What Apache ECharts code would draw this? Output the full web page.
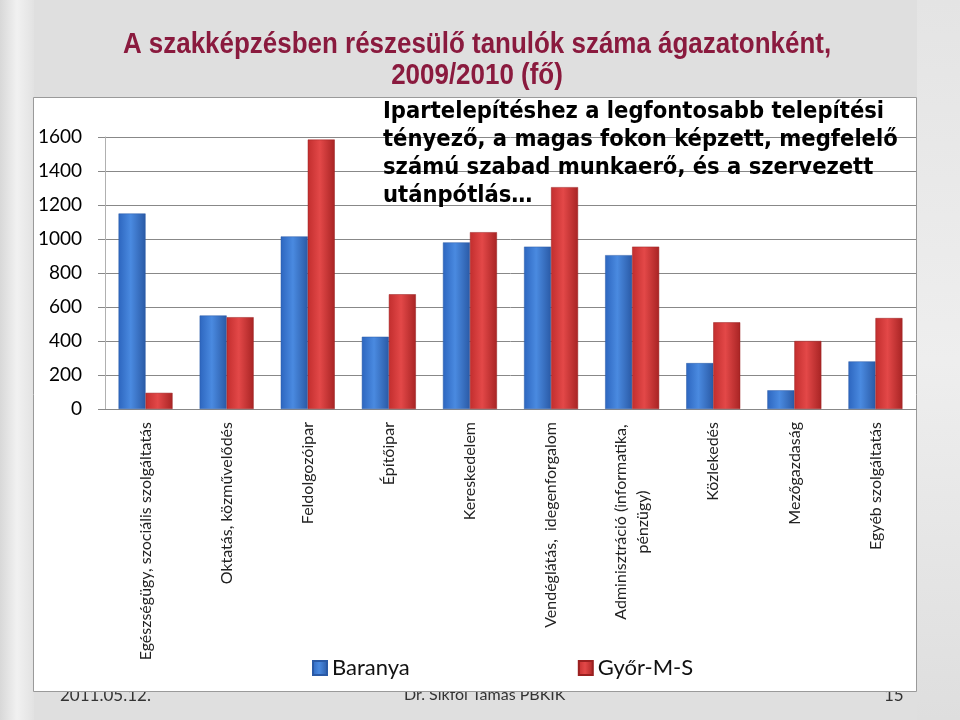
<!DOCTYPE html>
<html>
<head>
<meta charset="utf-8">
<script src="https://cdn.jsdelivr.net/npm/echarts@6/dist/echarts.min.js"></script>
<style>html,body{margin:0;padding:0;background:#dfdfdf;}#c{width:960px;height:720px;}</style>
</head>
<body>
<div id="c"></div>
<script>
const categories = [
  'Egészségügy, szociális szolgáltatás',
  'Oktatás, közművelődés',
  'Feldolgozóipar',
  'Építőipar',
  'Kereskedelem',
  'Vendéglátás,  idegenforgalom',
  'Adminisztráció (informatika,\npénzügy)',
  'Közlekedés',
  'Mezőgazdaság',
  'Egyéb szolgáltatás'
];
const baranya = [1150, 550, 1015, 425, 980, 955, 905, 270, 110, 280];
const gyor = [95, 540, 1585, 675, 1040, 1305, 955, 510, 400, 535];
const seriesNames = ['Baranya', 'Győr-M-S'];
const yTicks = [0, 200, 400, 600, 800, 1000, 1200, 1400, 1600];
const titleLine1 = 'A szakképzésben részesülő tanulók száma ágazatonként,';
const titleLine2 = '2009/2010 (fő)';
const noteText = 'Ipartelepítéshez a legfontosabb telepítési\ntényező, a magas fokon képzett, megfelelő\nszámú szabad munkaerő, és a szervezett\nutánpótlás…';

const blueGrad = new echarts.graphic.LinearGradient(0, 0, 1, 0, [
  {offset: 0, color: '#2d66bf'}, {offset: 0.45, color: '#4a8ae0'}, {offset: 1, color: '#2a5aa6'}
]);
const redGrad = new echarts.graphic.LinearGradient(0, 0, 1, 0, [
  {offset: 0, color: '#c22e2e'}, {offset: 0.45, color: '#e34848'}, {offset: 1, color: '#a82424'}
]);

const titleFont = 'bold 29px "Liberation Sans", Arial, sans-serif';

const chart = echarts.init(document.getElementById('c'));
chart.setOption({
  backgroundColor: '#dfdfdf',
  animation: false,
  graphic: [
    { type: 'rect', z: -20, shape: {x: 0, y: 0, width: 34, height: 720},
      style: { fill: new echarts.graphic.LinearGradient(0, 0, 1, 0, [{offset: 0, color: '#d8d8d8'}, {offset: 0.5, color: '#f1f1f1'}, {offset: 1, color: '#e2e2e2'}]) } },
    { type: 'rect', z: -20, shape: {x: 917, y: 0, width: 43, height: 720},
      style: { fill: new echarts.graphic.LinearGradient(0, 0, 0, 1, [{offset: 0, color: '#e4e4e4'}, {offset: 0.5, color: '#eeeeee'}, {offset: 1, color: '#dedede'}]) } },
    { type: 'text', z: 50, x: 477, y: 45, scaleX: 0.895,
      style: { text: titleLine1, font: titleFont, fill: '#8a1a3e', textAlign: 'center', textVerticalAlign: 'middle' } },
    { type: 'text', z: 50, x: 477, y: 76, scaleX: 0.895,
      style: { text: titleLine2, font: titleFont, fill: '#8a1a3e', textAlign: 'center', textVerticalAlign: 'middle' } },
    { type: 'text', z: -15, left: 60, top: 687,
      style: { text: '2011.05.12.', font: '17px Lato, sans-serif', fill: '#333' } },
    { type: 'text', z: -15, left: 404, top: 687,
      style: { text: 'Dr. Sikfői Tamás PBKIK', font: '16px Lato, sans-serif', fill: '#333' } },
    { type: 'text', z: -15, left: 884, top: 687,
      style: { text: '15', font: '17px Lato, sans-serif', fill: '#333' } },
    { type: 'rect', z: -10, shape: {x: 33.5, y: 97.5, width: 883, height: 594},
      style: { fill: '#ffffff', stroke: '#9a9a9a', lineWidth: 1 } },
    { type: 'text', z: 100, left: 383, top: 98,
      style: { text: noteText, font: 'bold 23.5px "DejaVu Sans Condensed", sans-serif', lineHeight: 28, fill: '#000' } }
  ],
  legend: {
    data: seriesNames,
    left: 312,
    top: 657,
    padding: 0,
    itemWidth: 14,
    itemHeight: 14,
    itemGap: 168,
    icon: 'rect',
    textStyle: { fontFamily: 'Lato, sans-serif', fontSize: 22, color: '#111', padding: [0, 0, 0, 0] }
  },
  grid: { left: 105, right: 44, top: 137, bottom: 311, containLabel: false },
  xAxis: {
    type: 'category',
    data: categories,
    axisLine: { lineStyle: { color: '#888' } },
    axisTick: { length: 6, lineStyle: { color: '#888' } },
    axisLabel: {
      rotate: 90,
      interval: 0,
      margin: 13,
      fontFamily: 'Lato, sans-serif',
      fontSize: 16,
      color: '#222',
      formatter: function (v) {
        if (v.indexOf('\n') >= 0) {
          return v.split('\n').map(s => '{c|' + s + '}').join('\n');
        }
        return v;
      },
      rich: { c: { width: 200, align: 'center', fontFamily: 'Lato, sans-serif', fontSize: 16, color: '#222', lineHeight: 22 } }
    }
  },
  yAxis: {
    type: 'value',
    min: 0,
    max: 1600,
    interval: 200,
    axisLine: { show: true, lineStyle: { color: '#b0b0b0' } },
    axisTick: { show: true, length: 7, lineStyle: { color: '#888' } },
    splitLine: { lineStyle: { color: '#888' } },
    axisLabel: {
      margin: 23,
      fontFamily: 'Lato, sans-serif',
      fontSize: 19,
      color: '#000',
      formatter: function (v) { return yTicks.indexOf(v) >= 0 ? String(v) : ''; }
    }
  },
  series: [
    { name: seriesNames[0], type: 'bar', data: baranya, barWidth: 27, barGap: '0%',
      itemStyle: { color: blueGrad, borderColor: '#2a5aa6', borderWidth: 0.5 } },
    { name: seriesNames[1], type: 'bar', data: gyor, barWidth: 27, barGap: '0%',
      itemStyle: { color: redGrad, borderColor: '#9a2020', borderWidth: 0.5 } }
  ]
});
</script>
</body>
</html>
